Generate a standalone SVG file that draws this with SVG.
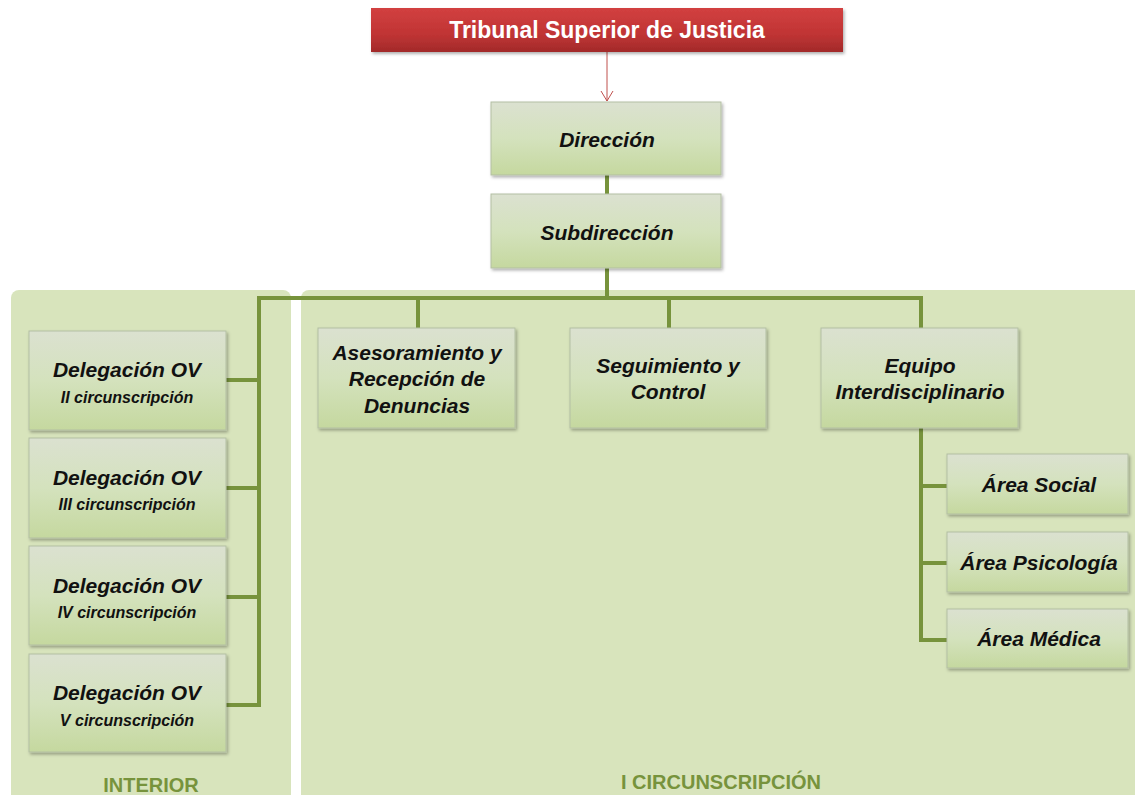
<svg xmlns="http://www.w3.org/2000/svg" width="1135" height="795" viewBox="0 0 1135 795">
<style>
.panel{fill:#d8e4bc}
.box{fill:url(#gb);stroke:#b3bfa3;stroke-width:1;filter:url(#sh)}
.t{font-family:"Liberation Sans",Arial,sans-serif;font-weight:bold;font-style:italic;fill:#111;text-anchor:middle}
.big{font-size:21px}
.small{font-size:16px}
.lab{font-family:"Liberation Sans",Arial,sans-serif;font-weight:bold;font-size:20px;fill:#77933c;text-anchor:middle}
.con{fill:none;stroke:#77933c;stroke-width:4}
</style>
<defs>
<linearGradient id="gb" x1="0" y1="0" x2="0" y2="1">
<stop offset="0" stop-color="#dbe1d0"/>
<stop offset="0.5" stop-color="#d4e2bd"/>
<stop offset="1" stop-color="#c5d89f"/>
</linearGradient>
<linearGradient id="gr" x1="0" y1="0" x2="0" y2="1">
<stop offset="0" stop-color="#d24040"/>
<stop offset="0.6" stop-color="#c03434"/>
<stop offset="1" stop-color="#a22a2a"/>
</linearGradient>
<filter id="sh" x="-10%" y="-10%" width="125%" height="130%">
<feDropShadow dx="1.5" dy="2" stdDeviation="1.5" flood-color="#000" flood-opacity="0.3"/>
</filter>
</defs>
<rect width="1135" height="795" fill="#ffffff"/>
<g id="panel-interior">
<rect class="panel" x="11" y="290" width="280" height="520" rx="8"/>
<text class="lab" x="151" y="792">INTERIOR</text>
</g>
<g id="panel-i-circ">
<rect class="panel" x="301" y="290" width="845" height="520" rx="8"/>
<text class="lab" x="721" y="789">I CIRCUNSCRIPCIÓN</text>
</g>
<g id="connectors">
<line x1="607" y1="52" x2="607" y2="101" stroke="#c0504d" stroke-width="1"/>
<path d="M601,91 L607,101 L613,91" fill="none" stroke="#c0504d" stroke-width="1"/>
<line class="con" x1="607" y1="175" x2="607" y2="194"/>
<line class="con" x1="607" y1="268" x2="607" y2="298"/>
<polyline class="con" points="418,328 418,298 259,298 259,705 226,705"/>
<line class="con" x1="257" y1="298" x2="923" y2="298"/>
<line class="con" x1="669" y1="298" x2="669" y2="328"/>
<line class="con" x1="921" y1="296" x2="921" y2="328"/>
<line class="con" x1="226" y1="380" x2="259" y2="380"/>
<line class="con" x1="226" y1="488" x2="259" y2="488"/>
<line class="con" x1="226" y1="597" x2="259" y2="597"/>
<polyline class="con" points="921,428 921,640 947,640"/>
<line class="con" x1="921" y1="486" x2="947" y2="486"/>
<line class="con" x1="921" y1="563" x2="947" y2="563"/>
</g>
<g id="tsj">
<rect x="371" y="8" width="472" height="44" fill="url(#gr)" filter="url(#sh)"/>
<text x="607" y="38" font-family="'Liberation Sans',Arial,sans-serif" font-weight="bold" font-size="23" fill="#fff" text-anchor="middle">Tribunal Superior de Justicia</text>
</g>
<g id="direccion">
<rect class="box" x="491" y="102" width="230" height="73"/>
<text class="t big" x="607" y="147">Dirección</text>
</g>
<g id="subdireccion">
<rect class="box" x="491" y="194" width="230" height="74"/>
<text class="t big" x="607" y="240">Subdirección</text>
</g>
<g id="asesoramiento">
<rect class="box" x="318" y="328" width="197" height="100"/>
<text class="t big" x="417" y="360">Asesoramiento y</text>
<text class="t big" x="417" y="386">Recepción de</text>
<text class="t big" x="417" y="413">Denuncias</text>
</g>
<g id="seguimiento">
<rect class="box" x="570" y="328" width="196" height="100"/>
<text class="t big" x="668" y="373">Seguimiento y</text>
<text class="t big" x="668" y="399">Control</text>
</g>
<g id="equipo">
<rect class="box" x="821" y="328" width="197" height="100"/>
<text class="t big" x="920" y="373">Equipo</text>
<text class="t big" x="920" y="399">Interdisciplinario</text>
</g>
<g id="area-social">
<rect class="box" x="947" y="454" width="181" height="60"/>
<text class="t big" x="1039" y="492">Área Social</text>
</g>
<g id="area-psicologia">
<rect class="box" x="947" y="532" width="181" height="60"/>
<text class="t big" x="1039" y="570">Área Psicología</text>
</g>
<g id="area-medica">
<rect class="box" x="947" y="609" width="181" height="59"/>
<text class="t big" x="1039" y="646">Área Médica</text>
</g>
<g id="deleg-ii">
<rect class="box" x="29" y="331" width="197" height="99"/>
<text class="t big" x="127" y="377">Delegación OV</text>
<text class="t small" x="127" y="403">II circunscripción</text>
</g>
<g id="deleg-iii">
<rect class="box" x="29" y="438" width="197" height="100"/>
<text class="t big" x="127" y="485">Delegación OV</text>
<text class="t small" x="127" y="510">III circunscripción</text>
</g>
<g id="deleg-iv">
<rect class="box" x="29" y="546" width="197" height="99"/>
<text class="t big" x="127" y="593">Delegación OV</text>
<text class="t small" x="127" y="618">IV circunscripción</text>
</g>
<g id="deleg-v">
<rect class="box" x="29" y="654" width="197" height="98"/>
<text class="t big" x="127" y="700">Delegación OV</text>
<text class="t small" x="127" y="726">V circunscripción</text>
</g>
</svg>
